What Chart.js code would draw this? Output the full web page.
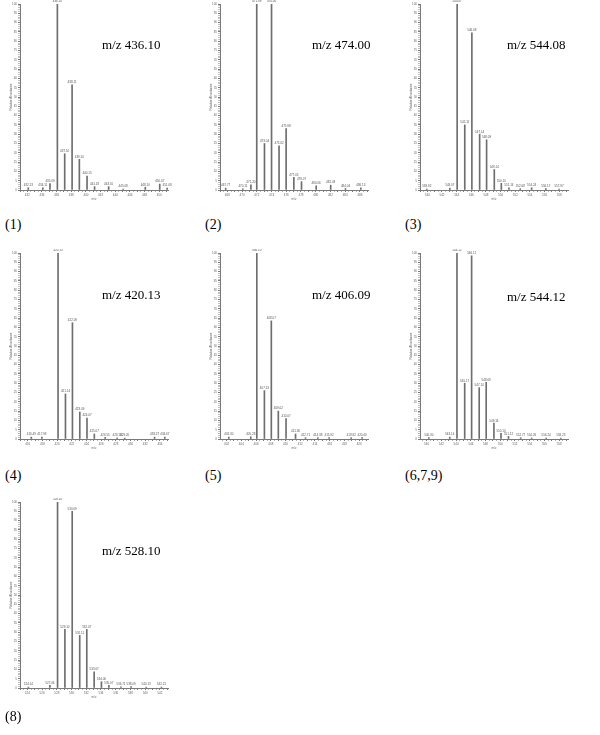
<!DOCTYPE html>
<html><head><meta charset="utf-8">
<script src="https://cdn.jsdelivr.net/npm/chart.js@4.4.1/dist/chart.umd.min.js"></script>
<style>
html,body{margin:0;padding:0;background:#fff;}
body{width:600px;height:735px;position:relative;overflow:hidden;}
.panel{position:absolute;width:200px;height:215px;}
.panel canvas{display:block;}
.mz{position:absolute;font-family:"Liberation Serif","Times New Roman",serif;font-size:13px;color:#000;white-space:nowrap;line-height:13px;transform:translateY(-50%);}
.tag{position:absolute;font-family:"Liberation Serif","Times New Roman",serif;font-size:14px;color:#000;white-space:nowrap;line-height:14px;transform:translateY(-50%);}
</style></head><body>
<script>
// ---- data (m/z of each peak, relative abundance %) ----
const p1Mz  = [432.13, 434.11, 435.09, 436.10, 437.10, 438.11, 439.10, 440.15, 441.18, 443.10, 445.08, 448.10, 450.07, 451.08];
const p1Ab  = [1.2, 1.2, 3.5, 100, 19.5, 56.5, 16.5, 7.5, 1.8, 1.8, 0.5, 1.5, 3.2, 1.0];
const p1Range = [431.0, 451.2];
const p1Title = 'm/z 436.10';

const p2Mz  = [467.77, 470.11, 471.20, 471.99, 473.04, 474.00, 475.02, 475.98, 477.03, 478.07, 480.06, 482.03, 484.04, 486.13];
const p2Ab  = [1.0, 0.6, 2.8, 100, 25, 100, 23.8, 33, 6.8, 4.5, 2.2, 2.6, 0.8, 1.2];
const p2Range = [467.0, 487.1];
const p2Title = 'm/z 474.00';

const p3Mz  = [539.92, 543.07, 544.07, 545.11, 546.08, 547.14, 548.09, 549.14, 550.10, 551.14, 552.68, 554.24, 556.17, 557.97];
const p3Ab  = [0.5, 1.0, 100, 35, 84.5, 30, 27, 11, 3.6, 1.2, 0.7, 1.2, 0.8, 0.5];
const p3Range = [539.0, 559.2];
const p3Title = 'm/z 544.08';

const p4Mz  = [416.49, 417.93, 420.13, 421.14, 422.09, 423.09, 424.07, 425.07, 426.55, 428.18, 429.20, 433.27, 434.67];
const p4Ab  = [1.0, 1.0, 100, 24.2, 62.5, 14.5, 11.2, 2.7, 0.9, 0.6, 0.5, 1.0, 1.0];
const p4Range = [414.95, 435.1];
const p4Title = 'm/z 420.13';

const p5Mz  = [402.30, 405.28, 406.10, 407.13, 408.07, 409.02, 410.07, 411.36, 412.71, 414.38, 415.92, 418.92, 420.40];
const p5Ab  = [1.0, 1.2, 100, 26, 63.5, 15, 11, 2.7, 0.7, 0.7, 0.7, 0.7, 0.7];
const p5Range = [401.1, 421.2];
const p5Title = 'm/z 406.09';

const p6Mz  = [540.30, 543.14, 544.12, 545.17, 546.11, 547.14, 548.09, 549.14, 550.10, 551.12, 552.77, 554.26, 556.24, 558.23];
const p6Ab  = [0.8, 1.0, 100, 30, 98.5, 27.6, 30.5, 8.5, 3.0, 1.4, 0.7, 0.5, 0.5, 0.5];
const p6Range = [539.1, 559.2];
const p6Title = 'm/z 544.12';

const p8Mz  = [524.14, 527.06, 528.10, 529.10, 530.09, 531.11, 532.07, 533.07, 534.06, 535.07, 536.71, 538.09, 540.13, 542.21];
const p8Ab  = [0.5, 1.5, 100, 31.5, 95, 28.3, 31.5, 8.7, 3.4, 1.5, 0.6, 0.7, 0.5, 0.5];
const p8Range = [523.0, 543.1];
const p8Title = 'm/z 528.10';

const panelTags = ['(1)', '(2)', '(3)', '(4)', '(5)', '(6,7,9)', '(8)'];

// ---- layout / style ----
const layoutInfo = [
  {mz:p1Mz, ab:p1Ab, range:p1Range, title:p1Title, left:0,   top:0,   tx:102, ty:44,  lx:5,   ly:225},
  {mz:p2Mz, ab:p2Ab, range:p2Range, title:p2Title, left:200, top:0,   tx:312, ty:44,  lx:205, ly:225},
  {mz:p3Mz, ab:p3Ab, range:p3Range, title:p3Title, left:400, top:0,   tx:507, ty:44,  lx:405, ly:225},
  {mz:p4Mz, ab:p4Ab, range:p4Range, title:p4Title, left:0,   top:249, tx:102, ty:294, lx:5,   ly:476},
  {mz:p5Mz, ab:p5Ab, range:p5Range, title:p5Title, left:200, top:249, tx:312, ty:294, lx:205, ly:476},
  {mz:p6Mz, ab:p6Ab, range:p6Range, title:p6Title, left:400, top:249, tx:507, ty:296, lx:405, ly:476},
  {mz:p8Mz, ab:p8Ab, range:p8Range, title:p8Title, left:0,   top:498, tx:102, ty:550, lx:5,   ly:717}
];

const SMALL = {family:'"Liberation Sans", Arial, sans-serif', size:3};
const GREY = '#7a7a7a';

const peakLabels = {
  id:'peakLabels',
  afterDatasetsDraw(chart) {
    const ctx = chart.ctx;
    const ds = chart.data.datasets[0];
    const meta = chart.getDatasetMeta(0);
    ctx.save();
    ctx.font = '3px "Liberation Sans", Arial, sans-serif';
    ctx.fillStyle = '#555';
    ctx.textAlign = 'center';
    ctx.textBaseline = 'bottom';
    meta.data.forEach((el, i) => {
      ctx.fillText(ds.data[i].x.toFixed(2), el.x, el.y - 1);
    });
    ctx.restore();
  }
};

layoutInfo.forEach((p, idx) => {
  const div = document.createElement('div');
  div.className = 'panel';
  div.style.left = p.left + 'px';
  div.style.top = p.top + 'px';
  const cv = document.createElement('canvas');
  cv.width = 200; cv.height = 215;
  div.appendChild(cv);
  document.body.appendChild(div);

  const t = document.createElement('div');
  t.className = 'mz'; t.textContent = p.title;
  t.style.left = p.tx + 'px'; t.style.top = p.ty + 'px';
  document.body.appendChild(t);

  const g = document.createElement('div');
  g.className = 'tag'; g.textContent = panelTags[idx];
  g.style.left = p.lx + 'px'; g.style.top = p.ly + 'px';
  document.body.appendChild(g);

  new Chart(cv, {
    type:'bar',
    data:{datasets:[{
      data:p.mz.map((x,i)=>({x:x, y:p.ab[i]})),
      backgroundColor:'#6e6e6e',
      borderWidth:0,
      barThickness:1
    }]},
    options:{
      responsive:false, animation:false, devicePixelRatio:1,
      layout:{padding:{top:4, right:32, bottom:0, left:0}},
      plugins:{legend:{display:false}, tooltip:{enabled:false}},
      scales:{
        x:{
          type:'linear', min:p.range[0], max:p.range[1], offset:false,
          afterBuildTicks(s){
            const arr=[]; 
            for(let v=Math.ceil(s.min*2)/2; v<=s.max+1e-9; v+=0.5) arr.push({value:v});
            s.ticks = arr;
          },
          afterFit(s){ s.height = 25; },
          grid:{offset:false, drawOnChartArea:false, tickLength:2,
                tickColor:(c)=> (c.tick && c.tick.value % 1 === 0) ? GREY : '#b5b5b5'},
          border:{color:GREY, width:1},
          ticks:{autoSkip:false, maxRotation:0, padding:1, color:'#666', font:SMALL,
                 callback:(v)=> (Math.abs(v % 2) < 1e-9 ? String(v) : '')},
          title:{display:true, text:'m/z', color:'#666', font:SMALL, padding:{top:0, bottom:14.2}}
        },
        y:{
          min:0, max:100,
          afterBuildTicks(s){
            const arr=[]; for(let v=0; v<=100; v++) arr.push({value:v});
            s.ticks = arr;
          },
          afterFit(s){ s.width = 20; },
          grid:{drawOnChartArea:false, tickLength:2,
                tickColor:(c)=> (c.tick && c.tick.value % 5 === 0) ? GREY : '#c0c0c0'},
          border:{color:GREY, width:1},
          ticks:{autoSkip:false, padding:1, color:'#666', font:SMALL,
                 callback:(v)=> (v % 5 === 0 ? String(v) : '')},
          title:{display:true, text:'Relative Abundance', color:'#666', font:SMALL, padding:{top:9.2, bottom:0}}
        }
      }
    },
    plugins:[peakLabels]
  });
});
</script>
</body></html>
